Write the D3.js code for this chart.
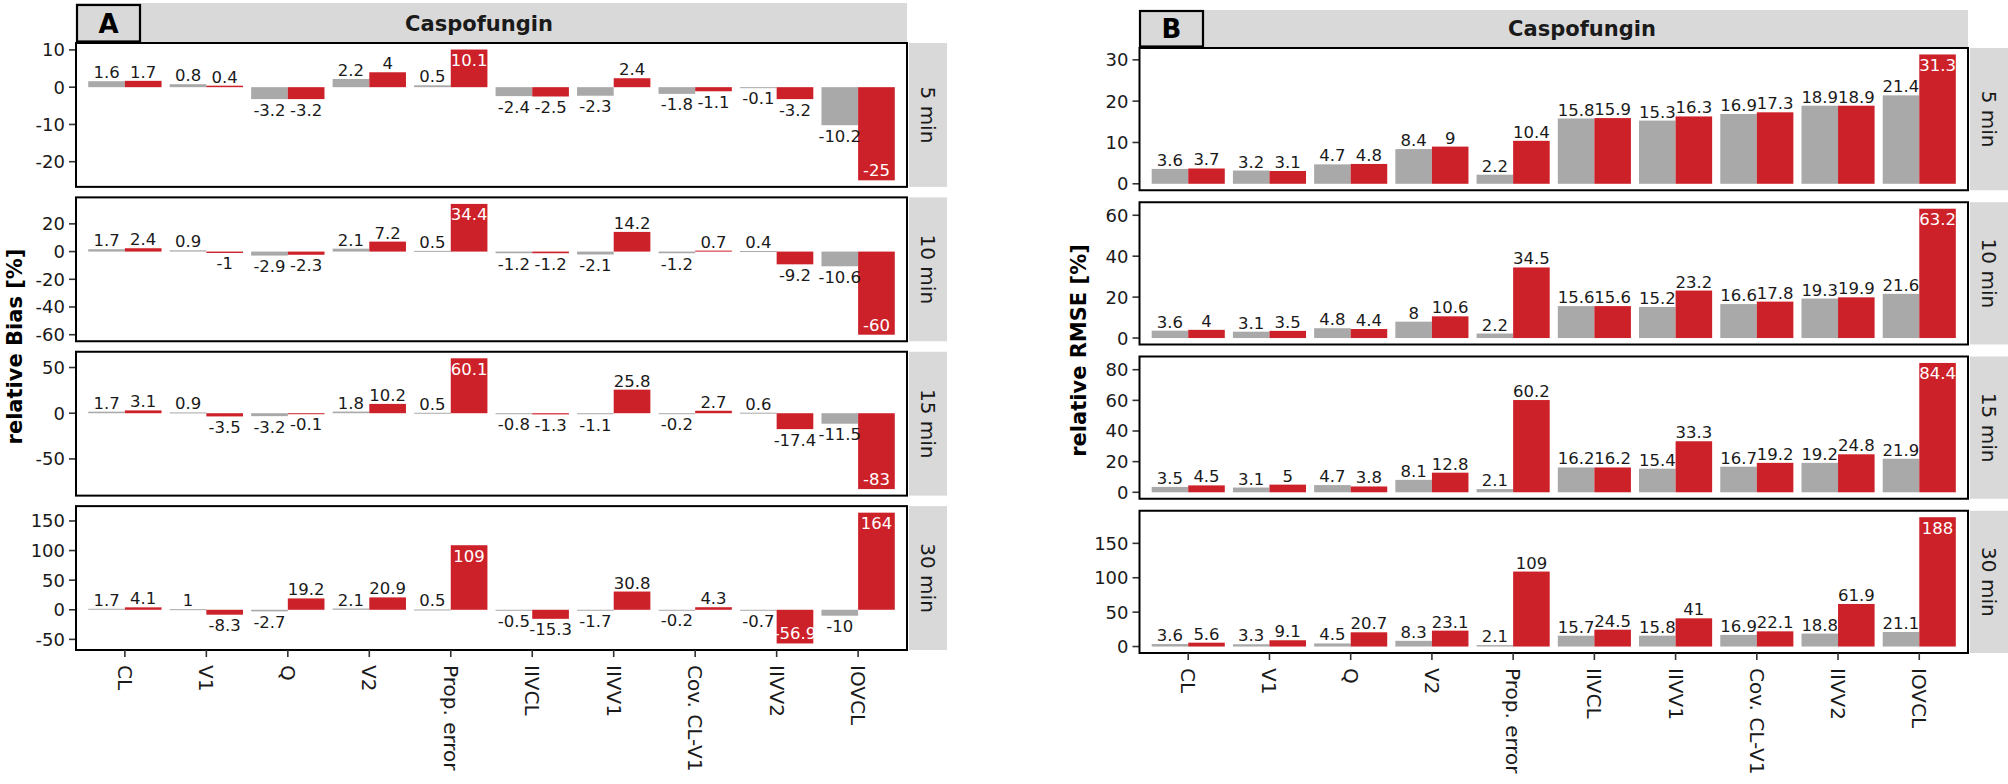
<!DOCTYPE html>
<html>
<head>
<meta charset="utf-8">
<script src="https://cdnjs.cloudflare.com/ajax/libs/d3/7.8.5/d3.min.js"></script>
<style>
  html, body { margin: 0; padding: 0; background: #fff; }
  svg { display: block; }
  text { font-family: "DejaVu Sans", sans-serif; }
</style>
</head>
<body>
<svg id="chart" width="2008" height="784"></svg>
<script>
// ---------------- DATA ----------------
const categories = ["CL", "V1", "Q", "V2", "Prop. error", "IIVCL", "IIVV1", "Cov. CL-V1", "IIVV2", "IOVCL"];
const timepoints = ["5 min", "10 min", "15 min", "30 min"];
const drugTitle = "Caspofungin";

// Panel A: relative Bias [%]  (grey series, red series) per timepoint
const biasGray = [
  [1.6, 0.8, -3.2, 2.2, 0.5, -2.4, -2.3, -1.8, -0.1, -10.2],
  [1.7, 0.9, -2.9, 2.1, 0.5, -1.2, -2.1, -1.2, 0.4, -10.6],
  [1.7, 0.9, -3.2, 1.8, 0.5, -0.8, -1.1, -0.2, 0.6, -11.5],
  [1.7, 1, -2.7, 2.1, 0.5, -0.5, -1.7, -0.2, -0.7, -10]
];
const biasRed = [
  [1.7, 0.4, -3.2, 4, 10.1, -2.5, 2.4, -1.1, -3.2, -25],
  [2.4, -1, -2.3, 7.2, 34.4, -1.2, 14.2, 0.7, -9.2, -60],
  [3.1, -3.5, -0.1, 10.2, 60.1, -1.3, 25.8, 2.7, -17.4, -83],
  [4.1, -8.3, 19.2, 20.9, 109, -15.3, 30.8, 4.3, -56.9, 164]
];
const biasTicks = [
  [-20, -10, 0, 10],
  [-60, -40, -20, 0, 20],
  [-50, 0, 50],
  [-50, 0, 50, 100, 150]
];

// Panel B: relative RMSE [%]
const rmseGray = [
  [3.6, 3.2, 4.7, 8.4, 2.2, 15.8, 15.3, 16.9, 18.9, 21.4],
  [3.6, 3.1, 4.8, 8, 2.2, 15.6, 15.2, 16.6, 19.3, 21.6],
  [3.5, 3.1, 4.7, 8.1, 2.1, 16.2, 15.4, 16.7, 19.2, 21.9],
  [3.6, 3.3, 4.5, 8.3, 2.1, 15.7, 15.8, 16.9, 18.8, 21.1]
];
const rmseRed = [
  [3.7, 3.1, 4.8, 9, 10.4, 15.9, 16.3, 17.3, 18.9, 31.3],
  [4, 3.5, 4.4, 10.6, 34.5, 15.6, 23.2, 17.8, 19.9, 63.2],
  [4.5, 5, 3.8, 12.8, 60.2, 16.2, 33.3, 19.2, 24.8, 84.4],
  [5.6, 9.1, 20.7, 23.1, 109, 24.5, 41, 22.1, 61.9, 188]
];
const rmseTicks = [
  [0, 10, 20, 30],
  [0, 20, 40, 60],
  [0, 20, 40, 60, 80],
  [0, 50, 100, 150]
];

// ---------------- LAYOUT / STYLE ----------------
const GRAY = "#a9a9a9", RED = "#cd2129", STRIP = "#d9d9d9", INK = "#1a1a1a";

const charts = [
  { tag: "A", gray: biasGray, red: biasRed, ticks: biasTicks, ylabel: "relative Bias [%]",
    left: 76, right: 907, top: 43, bottom: 650, gap: 10.5,
    headerTop: 3, boxLeft: 77, boxRight: 140, boxTop: 5, titleX: 479,
    ylabelX: 15, stripLeft: 909, stripRight: 947, insideRatio: 0.33 },
  { tag: "B", gray: rmseGray, red: rmseRed, ticks: rmseTicks, ylabel: "relative RMSE [%]",
    left: 1139.5, right: 1968, top: 48, bottom: 653, gap: 12,
    headerTop: 10, boxLeft: 1140, boxRight: 1203, boxTop: 11, titleX: 1582,
    ylabelX: 1079, stripLeft: 1970, stripRight: 2008, insideRatio: 0.9 }
];

const svg = d3.select("#chart");

charts.forEach(c => {
  const g = svg.append("g");
  const nP = timepoints.length;
  const panelH = (c.bottom - c.top - c.gap * (nP - 1)) / nP;

  const x = d3.scaleBand().domain(categories).range([c.left, c.right])
    .paddingInner(0.1).paddingOuter(0.15);
  const bw = x.bandwidth() / 2;

  // header strip
  g.append("rect").attr("x", c.left).attr("y", c.headerTop)
    .attr("width", c.right - c.left).attr("height", c.top - c.headerTop)
    .attr("fill", STRIP);
  g.append("rect").attr("x", c.boxLeft).attr("y", c.boxTop)
    .attr("width", c.boxRight - c.boxLeft).attr("height", c.top - c.boxTop - 1.5)
    .attr("fill", STRIP).attr("stroke", "#000").attr("stroke-width", 2.2);
  g.append("text").attr("x", (c.boxLeft + c.boxRight) / 2).attr("y", c.top - 10)
    .attr("text-anchor", "middle").attr("font-weight", "bold").attr("font-size", 26)
    .attr("fill", "#000").text(c.tag);
  g.append("text").attr("x", c.titleX).attr("y", c.top - 12)
    .attr("text-anchor", "middle").attr("font-weight", "bold").attr("font-size", 21)
    .attr("fill", INK).text(drugTitle);

  // y-axis title
  g.append("text")
    .attr("transform", `translate(${c.ylabelX},${(c.top + c.bottom) / 2}) rotate(-90)`)
    .attr("text-anchor", "middle").attr("dominant-baseline", "central")
    .attr("font-weight", "bold").attr("font-size", 21).attr("fill", "#000")
    .text(c.ylabel);

  timepoints.forEach((tp, i) => {
    const pTop = c.top + i * (panelH + c.gap);
    const pBot = pTop + panelH;
    const gv = c.gray[i], rv = c.red[i];
    const all = gv.concat(rv, [0]);
    const lo = d3.min(all), hi = d3.max(all);
    const ex = (hi - lo) * 0.05;
    const y = d3.scaleLinear().domain([lo - ex, hi + ex]).range([pBot, pTop]);
    const maxAbs = d3.max(rv.concat(gv), d => Math.abs(d));

    const pg = g.append("g");
    pg.append("rect").attr("x", c.left).attr("y", pTop)
      .attr("width", c.right - c.left).attr("height", panelH).attr("fill", "#fff");

    const rows = [];
    categories.forEach((cat, k) => {
      rows.push({ cat, v: gv[k], series: "gray", x0: x(cat) });
      rows.push({ cat, v: rv[k], series: "red", x0: x(cat) + bw });
    });

    pg.selectAll("rect.bar").data(rows).join("rect").attr("class", "bar")
      .attr("x", d => d.x0)
      .attr("width", bw)
      .attr("y", d => Math.min(y(d.v), y(0)))
      .attr("height", d => Math.max(Math.abs(y(d.v) - y(0)), 1))
      .attr("fill", d => d.series === "gray" ? GRAY : RED);

    // value labels
    pg.selectAll("text.val").data(rows).join("text").attr("class", "val")
      .each(function (d) {
        const inside = d.series === "red" && Math.abs(d.v) / maxAbs >= c.insideRatio;
        const neg = d.v < 0;
        let ty;
        if (!inside) ty = neg ? y(d.v) + 16.5 : y(d.v) - 3;
        else ty = neg ? y(d.v) - 4 : y(d.v) + 16.5;
        d3.select(this)
          .attr("x", d.x0 + bw / 2)
          .attr("y", ty)
          .attr("fill", inside ? "#fff" : INK);
      })
      .attr("text-anchor", "middle").attr("font-size", 16.5)
      .text(d => String(d.v));

    // y axis ticks
    const yt = c.ticks[i];
    pg.selectAll("line.yt").data(yt).join("line").attr("class", "yt")
      .attr("x1", c.left - 7).attr("x2", c.left)
      .attr("y1", d => y(d)).attr("y2", d => y(d))
      .attr("stroke", "#333").attr("stroke-width", 1.6);
    pg.selectAll("text.yl").data(yt).join("text").attr("class", "yl")
      .attr("x", c.left - 11).attr("y", d => y(d))
      .attr("text-anchor", "end").attr("dominant-baseline", "central")
      .attr("font-size", 18).attr("fill", INK)
      .text(d => String(d).replace("-", "-"));

    // panel border
    pg.append("rect").attr("x", c.left).attr("y", pTop)
      .attr("width", c.right - c.left).attr("height", panelH)
      .attr("fill", "none").attr("stroke", "#000").attr("stroke-width", 2);

    // right strip
    pg.append("rect").attr("x", c.stripLeft).attr("y", pTop)
      .attr("width", c.stripRight - c.stripLeft).attr("height", panelH)
      .attr("fill", STRIP);
    pg.append("text")
      .attr("transform", `translate(${(c.stripLeft + c.stripRight) / 2},${(pTop + pBot) / 2}) rotate(90)`)
      .attr("text-anchor", "middle").attr("dominant-baseline", "central")
      .attr("font-size", 20).attr("fill", INK).text(tp);
  });

  // x axis ticks and labels
  const xg = g.append("g");
  xg.selectAll("line").data(categories).join("line")
    .attr("x1", d => x(d) + x.bandwidth() / 2).attr("x2", d => x(d) + x.bandwidth() / 2)
    .attr("y1", c.bottom).attr("y2", c.bottom + 7)
    .attr("stroke", "#333").attr("stroke-width", 1.6);
  xg.selectAll("text").data(categories).join("text")
    .attr("transform", d => `translate(${x(d) + x.bandwidth() / 2},${c.bottom + 15}) rotate(90)`)
    .attr("text-anchor", "start").attr("dominant-baseline", "central")
    .attr("font-size", 20).attr("fill", INK).text(d => d);
});
</script>
</body>
</html>
